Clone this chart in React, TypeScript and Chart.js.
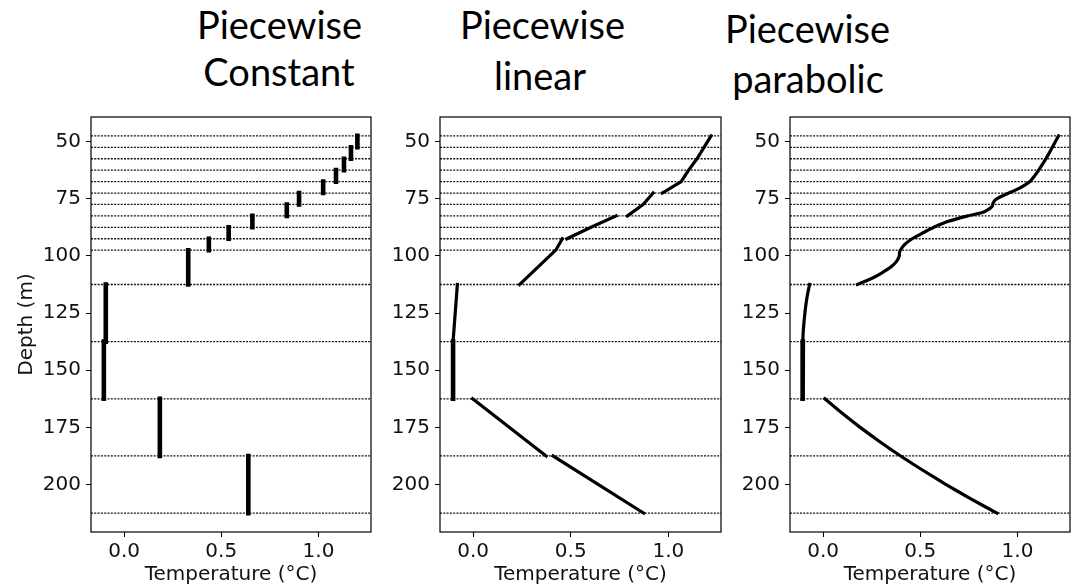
import React, { useEffect, useRef } from "react";
import { Chart, registerables } from "chart.js";

Chart.register(...registerables);

// ---------------- data ----------------
const TITLES: string[][] = [
  ["Piecewise", "Constant"],
  ["Piecewise", "linear"],
  ["Piecewise", "parabolic"],
];
const X_LABEL = "Temperature (°C)";
const Y_LABEL = "Depth (m)";

const X_TICKS = [0, 0.5, 1.0];
const Y_TICKS = [50, 75, 100, 125, 150, 175, 200];
const X_MIN = -0.17;
const X_MAX = 1.27;
const Y_MIN = 39.25;
const Y_MAX = 220.75;

// layer boundaries (m)
const LAYER_BOUNDS = [47.5, 52.5, 57.5, 62.5, 67.5, 72.5, 77.5, 82.5, 87.5, 92.5, 97.5, 112.5, 137.5, 162.5, 187.5, 212.5];

// piecewise constant: one temperature per layer
const CONSTANT_TEMPS = [1.2, 1.167, 1.131, 1.09, 1.024, 0.9, 0.837, 0.66, 0.538, 0.436, 0.33, -0.094, -0.104, 0.184, 0.639];

// piecewise linear: temperature at top and bottom of each layer
const LINEAR_TOP = [1.219, 1.183, 1.147, 1.104, 1.066, 0.922, 0.871, 0.733, 0.604, 0.457, 0.423, -0.081, -0.103, -0.003, 0.409];
const LINEAR_BOTTOM = [1.183, 1.147, 1.104, 1.066, 0.969, 0.871, 0.79, 0.604, 0.48, 0.423, 0.238, -0.103, -0.103, 0.374, 0.874];

// piecewise parabolic: sampled curves
const PARA_UPPER_DEPTH = [47.5, 50, 52.5, 55, 57.5, 60, 62.5, 65, 67.5, 70, 72.5, 74, 75.5, 77, 78.5, 80, 81, 82.5, 85, 87.5, 90, 92.5, 95, 97.5, 98.5, 100, 102.5, 105, 107.5, 110, 112.5];
const PARA_UPPER_TEMP = [1.211, 1.195, 1.179, 1.163, 1.146, 1.128, 1.109, 1.088, 1.064, 1.018, 0.955, 0.915, 0.886, 0.874, 0.868, 0.845, 0.82, 0.745, 0.64, 0.57, 0.512, 0.458, 0.42, 0.398, 0.393, 0.392, 0.377, 0.347, 0.301, 0.247, 0.177];
const PARA_MID_DEPTH = [112.5, 116, 120.0, 124, 128, 132, 135, 137.5];
const PARA_MID_TEMP = [-0.069, -0.078, -0.086, -0.092, -0.097, -0.101, -0.103, -0.104];
const PARA_DEEP_DEPTH = [137.5, 162.5];
const PARA_DEEP_TEMP = [-0.104, -0.105];
const PARA_LOWER_DEPTH = [162.5, 168.75, 175, 181.25, 187.5, 193.75, 200, 206.25, 212.5];
const PARA_LOWER_TEMP = [0.009, 0.097, 0.191, 0.292, 0.399, 0.513, 0.633, 0.76, 0.894];

// ---------------- helpers ----------------
const TICK_FONT = { family: "'DejaVu Sans', sans-serif", size: 20 };
const TEXT_COLOR = "#111";

type Pt = { x: number; y: number };

function lineDs(data: Pt[], width: number, tension = 0) {
  return {
    data,
    showLine: true,
    borderColor: "#000",
    backgroundColor: "#000",
    borderWidth: width,
    borderCapStyle: "square",
    borderJoinStyle: "round",
    pointRadius: 0,
    tension,
    fill: false,
    order: 0,
  };
}

function boundDatasets() {
  return LAYER_BOUNDS.map((b) => ({
    data: [
      { x: X_MIN, y: b },
      { x: X_MAX, y: b },
    ],
    showLine: true,
    borderColor: "#111",
    borderWidth: 1.3,
    borderDash: [2, 1.3],
    pointRadius: 0,
    fill: false,
    order: 5,
  }));
}

function constantDatasets() {
  return CONSTANT_TEMPS.map((t, i) =>
    lineDs(
      [
        { x: t, y: LAYER_BOUNDS[i] },
        { x: t, y: LAYER_BOUNDS[i + 1] },
      ],
      4.6
    )
  );
}

function linearDatasets() {
  const out: any[] = [];
  let cur: Pt[] = [];
  let curWidth = 3.2;
  for (let i = 0; i < LINEAR_TOP.length; i++) {
    const w = i === 12 ? 4.6 : 3.2;
    const top = { x: LINEAR_TOP[i], y: LAYER_BOUNDS[i] };
    const bot = { x: LINEAR_BOTTOM[i], y: LAYER_BOUNDS[i + 1] };
    const continuous = cur.length > 0 && i > 0 && LINEAR_BOTTOM[i - 1] === LINEAR_TOP[i] && w === curWidth;
    if (continuous) {
      cur.push(bot);
    } else {
      if (cur.length) out.push(lineDs(cur, curWidth));
      cur = [top, bot];
      curWidth = w;
    }
  }
  if (cur.length) out.push(lineDs(cur, curWidth));
  return out;
}

function curve(depths: number[], temps: number[]): Pt[] {
  return depths.map((d, i) => ({ x: temps[i], y: d }));
}

function parabolicDatasets() {
  return [
    lineDs(curve(PARA_UPPER_DEPTH, PARA_UPPER_TEMP), 3.2, 0.2),
    lineDs(curve(PARA_MID_DEPTH, PARA_MID_TEMP), 3.2, 0.2),
    lineDs(curve(PARA_DEEP_DEPTH, PARA_DEEP_TEMP), 4.6, 0),
    lineDs(curve(PARA_LOWER_DEPTH, PARA_LOWER_TEMP), 3.2, 0.2),
  ];
}

const framePlugin = {
  id: "frame",
  afterDraw(chart: any) {
    const { ctx, chartArea: a } = chart;
    ctx.save();
    ctx.strokeStyle = "#000";
    ctx.lineWidth = 1.2;
    ctx.strokeRect(a.left, a.top, a.right - a.left, a.bottom - a.top);
    ctx.restore();
  },
};

function makeConfig(datasets: any[], showYTitle: boolean, axisW: number, padRight: number) {
  return {
    type: "scatter",
    data: { datasets },
    plugins: [framePlugin],
    options: {
      animation: false,
      responsive: false,
      events: [],
      layout: { padding: { left: 0, right: padRight, top: 13, bottom: 0 } },
      plugins: {
        legend: { display: false },
        tooltip: { enabled: false },
        title: { display: false },
      },
      scales: {
        x: {
          type: "linear",
          min: X_MIN,
          max: X_MAX,
          afterBuildTicks: (s: any) => {
            s.ticks = X_TICKS.map((v) => ({ value: v }));
          },
          afterFit: (s: any) => {
            s.height = 55;
          },
          ticks: {
            callback: (v: any) => Number(v).toFixed(1),
            font: TICK_FONT,
            color: TEXT_COLOR,
            padding: 3,
            maxRotation: 0,
            autoSkip: false,
          },
          grid: { drawOnChartArea: false, drawTicks: true, tickLength: 5, color: "#000", lineWidth: 1 },
          border: { display: false },
          title: {
            display: true,
            text: X_LABEL,
            font: TICK_FONT,
            color: TEXT_COLOR,
            padding: { top: 0, bottom: 0 },
          },
        },
        y: {
          type: "linear",
          reverse: true,
          min: Y_MIN,
          max: Y_MAX,
          afterBuildTicks: (s: any) => {
            s.ticks = Y_TICKS.map((v) => ({ value: v }));
          },
          afterFit: (s: any) => {
            s.width = axisW;
          },
          ticks: {
            callback: (v: any) => String(v),
            font: TICK_FONT,
            color: TEXT_COLOR,
            padding: 5,
            autoSkip: false,
          },
          grid: { drawOnChartArea: false, drawTicks: true, tickLength: 5, color: "#000", lineWidth: 1 },
          border: { display: false },
          title: {
            display: showYTitle,
            text: Y_LABEL,
            font: TICK_FONT,
            color: TEXT_COLOR,
            padding: { top: 15, bottom: 0 },
          },
        },
      },
    },
  };
}

function Panel(props: { left: number; width: number; build: () => any }) {
  const ref = useRef<HTMLCanvasElement | null>(null);
  useEffect(() => {
    if (!ref.current) return;
    const chart = new Chart(ref.current, props.build());
    return () => chart.destroy();
  }, []);
  return (
    <canvas
      ref={ref}
      width={props.width}
      height={487}
      style={{ position: "absolute", left: props.left, top: 100, width: props.width, height: 487 }}
    />
  );
}

const TITLE_POS = [
  [
    [279.5, 39.3],
    [279, 86],
  ],
  [
    [542.5, 39.3],
    [540, 90],
  ],
  [
    [807.5, 42.7],
    [808, 93.3],
  ],
];

export default function App() {
  return (
    <div
      style={{
        position: "fixed",
        left: 0,
        top: 0,
        width: 1072,
        height: 587,
        background: "#fff",
        overflow: "hidden",
      }}
    >
      <svg width={1072} height={110} style={{ position: "absolute", left: 0, top: 0 }}>
        {TITLES.map((lines, p) =>
          lines.map((t, l) => (
            <text
              key={p + "-" + l}
              x={TITLE_POS[p][l][0]}
              y={TITLE_POS[p][l][1]}
              textAnchor="middle"
              fontFamily="Lato, 'Open Sans', sans-serif"
              fontSize={38}
              fill="#000"
            >
              {t}
            </text>
          ))
        )}
      </svg>
      <Panel left={0} width={380} build={() => makeConfig([...boundDatasets(), ...constantDatasets()], true, 91, 9)} />
      <Panel left={380} width={350} build={() => makeConfig([...boundDatasets(), ...linearDatasets()], false, 60, 9)} />
      <Panel left={730} width={342} build={() => makeConfig([...boundDatasets(), ...parabolicDatasets()], false, 60, 2)} />
    </div>
  );
}
